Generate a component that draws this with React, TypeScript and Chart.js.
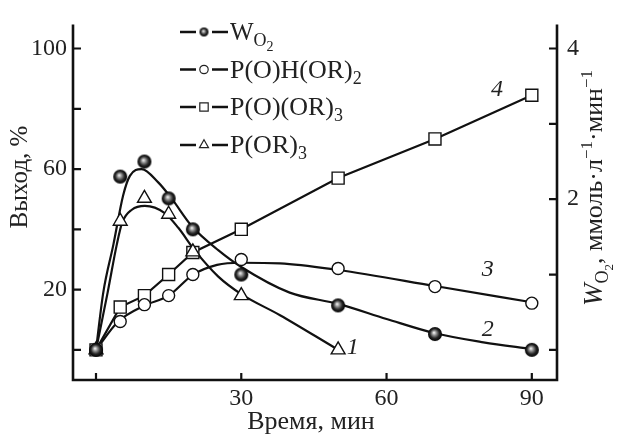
import React, { useEffect, useRef } from 'react';
import { Chart, registerables } from 'chart.js';

Chart.register(...registerables);

// ---------- data ----------
const TIME = [0, 5, 10, 15, 20, 30, 50, 70, 90];
const W_O2_RATE = [0, 2.3, 2.5, 2.01, 1.6, 1.0, 0.59, 0.21, 0]; // mmol/(L·min), right axis
const P_OH_OR2 = [0, 9.4, 15, 18, 25, 30, 27, 21, 15.5]; // %
const P_O_OR3 = [0, 14.2, 18, 25, 32.3, 40, 57, 70, 84.5]; // %
const P_OR3_TIME = [0, 5, 10, 15, 20, 30, 50];
const P_OR3 = [0, 42.7, 50.3, 45, 32.5, 18, 0]; // %

// smooth fitted curves
const W_FIT_TIME = [0, 1.5, 3.6, 5.6, 7, 9.4, 12.9, 15.6, 19.8, 25.3, 30, 40, 50, 60, 70, 80, 90];
const W_FIT_RATE = [0, 0.76, 1.4, 2.05, 2.31, 2.4, 2.22, 2.01, 1.64, 1.32, 1.1, 0.76, 0.61, 0.41, 0.22, 0.1, 0.01];
const P_OR3_FIT_TIME = [0, 2.4, 4.3, 5.4, 7.4, 10.1, 14.2, 17, 20.4, 25.2, 30, 38, 49.3];
const P_OR3_FIT = [0, 19, 35, 42.2, 46.5, 47.8, 45.4, 40.5, 33, 24.4, 18.5, 11.5, 0.7];
const P_OH_FIT_TIME = [0, 4.6, 10, 15, 20, 25, 30, 38, 50, 70, 90];
const P_OH_FIT = [0, 9.4, 14.7, 18, 24.9, 28.2, 28.9, 28.7, 26.5, 21.2, 15.8];

// axes ticks
const X_TICKS = [0, 30, 60, 90];
const X_LABELS = [30, 60, 90];
const Y_TICKS = [0, 20, 40, 60, 80, 100];
const Y_LABELS = [20, 60, 100];
const Y2_TICKS = [0, 1, 2, 3, 4];
const Y2_LABELS = [2, 4];

// curve numbers (x in min, y in %)
const CURVE_NUMS = ['1', '2', '3', '4'];
const CURVE_NUM_T = [53, 80.9, 80.9, 82.8];
const CURVE_NUM_Y = [0.6, 6.8, 26.5, 86.5];

const FONT = '"Liberation Serif", "Times New Roman", serif';
const INK = '#222222';

function makeSphere(r: number): HTMLCanvasElement {
  const c = document.createElement('canvas');
  const s = Math.ceil(r * 2 + 2);
  c.width = s;
  c.height = s;
  const g = c.getContext('2d')!;
  const cx = s / 2;
  const cy = s / 2;
  const grad = g.createRadialGradient(cx - r * 0.15, cy - r * 0.2, r * 0.05, cx, cy, r);
  grad.addColorStop(0, '#eeeeee');
  grad.addColorStop(0.3, '#8c8c8c');
  grad.addColorStop(0.65, '#262626');
  grad.addColorStop(1, '#000000');
  g.fillStyle = grad;
  g.beginPath();
  g.arc(cx, cy, r, 0, Math.PI * 2);
  g.fill();
  return c;
}

type Run = { t: string; size: number; dy?: number; italic?: boolean };

function drawRuns(ctx: CanvasRenderingContext2D, runs: Run[], x: number, y: number, align: 'left' | 'center' = 'left') {
  const widths = runs.map((r) => {
    ctx.font = `${r.italic ? 'italic ' : ''}${r.size}px ${FONT}`;
    return ctx.measureText(r.t).width;
  });
  const total = widths.reduce((a, b) => a + b, 0);
  let cx = align === 'center' ? x - total / 2 : x;
  ctx.textAlign = 'left';
  ctx.textBaseline = 'alphabetic';
  runs.forEach((r, i) => {
    ctx.font = `${r.italic ? 'italic ' : ''}${r.size}px ${FONT}`;
    ctx.fillText(r.t, cx, y + (r.dy || 0));
    cx += widths[i];
  });
}

function drawMarker(ctx: CanvasRenderingContext2D, kind: string, x: number, y: number, sphereSmall: HTMLCanvasElement) {
  ctx.save();
  ctx.lineWidth = 1.2;
  ctx.strokeStyle = INK;
  ctx.fillStyle = '#fff';
  if (kind === 'sphere') {
    ctx.drawImage(sphereSmall, x - sphereSmall.width / 2, y - sphereSmall.height / 2);
  } else if (kind === 'circle') {
    ctx.beginPath();
    ctx.arc(x, y, 4.2, 0, Math.PI * 2);
    ctx.fill();
    ctx.stroke();
  } else if (kind === 'square') {
    ctx.beginPath();
    ctx.rect(x - 4.2, y - 4.2, 8.4, 8.4);
    ctx.fill();
    ctx.stroke();
  } else {
    const r = 5.2;
    ctx.beginPath();
    ctx.moveTo(x, y - r);
    ctx.lineTo(x + r * 0.866, y + r * 0.5);
    ctx.lineTo(x - r * 0.866, y + r * 0.5);
    ctx.closePath();
    ctx.fill();
    ctx.stroke();
  }
  ctx.restore();
}

export default function App() {
  const ref = useRef<HTMLCanvasElement>(null);

  useEffect(() => {
    document.body.style.margin = '0';
    const sphere = makeSphere(7);
    const sphereSmall = makeSphere(4.5);

    const decorations = {
      id: 'decorations',
      afterDraw(chart: any) {
        const ctx: CanvasRenderingContext2D = chart.ctx;
        const { left, right, top, bottom } = chart.chartArea;
        const xs = chart.scales.x;
        const ys = chart.scales.y;
        const y2 = chart.scales.y2;
        ctx.save();
        // frame
        ctx.strokeStyle = '#111';
        ctx.lineWidth = 2.6;
        ctx.lineCap = 'butt';
        ctx.beginPath();
        ctx.moveTo(left, top);
        ctx.lineTo(left, bottom);
        ctx.lineTo(right, bottom);
        ctx.lineTo(right, top);
        ctx.stroke();
        // inward ticks
        ctx.lineWidth = 2.2;
        ctx.beginPath();
        X_TICKS.forEach((v) => {
          const px = xs.getPixelForValue(v);
          ctx.moveTo(px, bottom);
          ctx.lineTo(px, bottom - 7);
        });
        Y_TICKS.forEach((v) => {
          const py = ys.getPixelForValue(v);
          ctx.moveTo(left, py);
          ctx.lineTo(left + 8, py);
        });
        Y2_TICKS.forEach((v) => {
          const py = y2.getPixelForValue(v);
          ctx.moveTo(right, py);
          ctx.lineTo(right - 8, py);
        });
        ctx.stroke();

        ctx.fillStyle = INK;
        // axis titles
        drawRuns(ctx, [{ t: 'Время, мин', size: 26 }], 311, 429, 'center');
        ctx.save();
        ctx.translate(27, 177);
        ctx.rotate(-Math.PI / 2);
        drawRuns(ctx, [{ t: 'Выход, %', size: 25 }], 0, 0, 'center');
        ctx.restore();
        ctx.save();
        ctx.translate(602, 188);
        ctx.rotate(-Math.PI / 2);
        drawRuns(
          ctx,
          [
            { t: 'W', size: 27, italic: true },
            { t: 'O', size: 18, dy: 6 },
            { t: '2', size: 13, dy: 11 },
            { t: ', ммоль·л', size: 26 },
            { t: '−1', size: 17, dy: -10 },
            { t: '·мин', size: 26 },
            { t: '−1', size: 17, dy: -10 },
          ],
          0,
          0,
          'center'
        );
        ctx.restore();

        // legend
        const rows = [
          { kind: 'sphere', runs: [{ t: 'W', size: 25 }, { t: 'O', size: 18, dy: 6 }, { t: '2', size: 14, dy: 11 }] },
          { kind: 'circle', runs: [{ t: 'P(O)H(OR)', size: 26 }, { t: '2', size: 18, dy: 6 }] },
          { kind: 'square', runs: [{ t: 'P(O)(OR)', size: 26 }, { t: '3', size: 18, dy: 6 }] },
          { kind: 'triangle', runs: [{ t: 'P(OR)', size: 26 }, { t: '3', size: 18, dy: 6 }] },
        ];
        const rowY = [32, 69.5, 107, 145];
        rows.forEach((row, i) => {
          const y = rowY[i];
          ctx.strokeStyle = '#111';
          ctx.lineWidth = 2.4;
          ctx.beginPath();
          ctx.moveTo(180, y);
          ctx.lineTo(196, y);
          ctx.moveTo(212, y);
          ctx.lineTo(228, y);
          ctx.stroke();
          drawMarker(ctx, row.kind, 204, y, sphereSmall);
          ctx.fillStyle = INK;
          drawRuns(ctx, row.runs as Run[], 230, y + 8);
        });

        // curve numbers
        CURVE_NUMS.forEach((n, i) => {
          const px = xs.getPixelForValue(CURVE_NUM_T[i]);
          const py = ys.getPixelForValue(CURVE_NUM_Y[i]);
          ctx.font = `italic 24px ${FONT}`;
          ctx.textAlign = 'center';
          ctx.textBaseline = 'middle';
          ctx.fillText(n, px, py);
        });
        ctx.restore();
      },
    };

    const pts = (xsArr: number[], ysArr: number[]) => xsArr.map((x, i) => ({ x, y: ysArr[i] }));
    const curve = (data: any, axis: string) => ({
      data,
      yAxisID: axis,
      showLine: true,
      borderColor: '#111',
      borderWidth: 2.2,
      pointRadius: 0,
      cubicInterpolationMode: 'monotone',
      fill: false,
    });
    const tickFont = { family: FONT, size: 24 };

    const chart = new Chart(ref.current!, {
      type: 'scatter',
      data: {
        datasets: [
          {
            data: pts(TIME, W_O2_RATE),
            yAxisID: 'y2',
            showLine: false,
            pointStyle: sphere,
            pointRadius: 7,
          },
          {
            data: pts(TIME, P_OH_OR2),
            yAxisID: 'y',
            showLine: false,
            pointStyle: 'circle',
            pointRadius: 6,
            pointBackgroundColor: '#fff',
            pointBorderColor: '#111',
            pointBorderWidth: 1.4,
          },
          {
            data: pts(P_OR3_TIME, P_OR3),
            yAxisID: 'y',
            showLine: false,
            pointStyle: 'triangle',
            pointRadius: 8,
            pointBackgroundColor: '#fff',
            pointBorderColor: '#111',
            pointBorderWidth: 1.4,
          },
          {
            data: pts(TIME, P_O_OR3),
            yAxisID: 'y',
            showLine: true,
            tension: 0,
            borderColor: '#111',
            borderWidth: 2.2,
            pointStyle: 'rect',
            pointRadius: 8.5,
            pointBackgroundColor: '#fff',
            pointBorderColor: '#111',
            pointBorderWidth: 1.4,
          },
          curve(pts(W_FIT_TIME, W_FIT_RATE), 'y2'),
          curve(pts(P_OR3_FIT_TIME, P_OR3_FIT), 'y'),
          curve(pts(P_OH_FIT_TIME, P_OH_FIT), 'y'),
        ] as any,
      },
      options: {
        animation: false,
        responsive: false,
        events: [],
        layout: { padding: { top: 14, left: 0, right: 0, bottom: 0 } },
        plugins: { legend: { display: false }, tooltip: { enabled: false } },
        scales: {
          x: {
            type: 'linear',
            min: -4.75,
            max: 95.2,
            grid: { display: false, drawTicks: false },
            border: { display: false },
            afterBuildTicks: (s: any) => {
              s.ticks = X_TICKS.map((v) => ({ value: v }));
            },
            afterFit: (s: any) => {
              s.height = 57;
            },
            ticks: {
              autoSkip: false,
              maxRotation: 0,
              padding: 4,
              color: INK,
              font: tickFont,
              callback: (v: any) => (X_LABELS.includes(Number(v)) ? String(v) : ''),
            },
          },
          y: {
            type: 'linear',
            position: 'left',
            min: -10,
            max: 108,
            grid: { display: false, drawTicks: false },
            border: { display: false },
            afterBuildTicks: (s: any) => {
              s.ticks = Y_TICKS.map((v) => ({ value: v }));
            },
            afterFit: (s: any) => {
              s.width = 73;
            },
            ticks: {
              padding: 6,
              color: INK,
              font: tickFont,
              callback: (v: any) => (Y_LABELS.includes(Number(v)) ? String(v) : ''),
            },
          },
          y2: {
            type: 'linear',
            position: 'right',
            min: -0.4,
            max: 4.32,
            grid: { display: false, drawTicks: false },
            border: { display: false },
            afterBuildTicks: (s: any) => {
              s.ticks = Y2_TICKS.map((v) => ({ value: v }));
            },
            afterFit: (s: any) => {
              s.width = 61;
            },
            ticks: {
              padding: 10,
              color: INK,
              font: tickFont,
              callback: (v: any) => (Y2_LABELS.includes(Number(v)) ? String(v) : ''),
            },
          },
        },
      } as any,
      plugins: [decorations],
    });
    return () => chart.destroy();
  }, []);

  return (
    <div style={{ width: 618, height: 437, background: '#fff' }}>
      <canvas ref={ref} width={618} height={437} style={{ display: 'block' }} />
    </div>
  );
}
